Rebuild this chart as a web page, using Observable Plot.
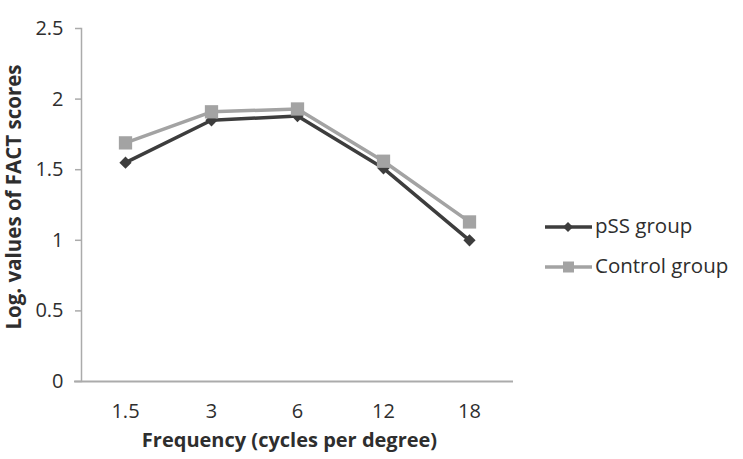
<!DOCTYPE html>
<html>
<head>
<meta charset="utf-8">
<script src="https://cdn.jsdelivr.net/npm/d3@7"></script>
<script src="https://cdn.jsdelivr.net/npm/@observablehq/plot@0.6"></script>
<style>
  html, body { margin: 0; padding: 0; background: #fff; }
  #wrap { position: relative; width: 743px; height: 459px; font-family: "Open Sans", sans-serif; }
  #legend { position: absolute; left: 0; top: 0; }
</style>
</head>
<body>
<div id="wrap"></div>
<script>
const frequencies = ["1.5", "3", "6", "12", "18"];
const pssValues = [1.55, 1.85, 1.88, 1.51, 1.00];
const controlValues = [1.69, 1.91, 1.93, 1.56, 1.13];
const seriesNames = ["pSS group", "Control group"];
const yTicks = [0, 0.5, 1, 1.5, 2, 2.5];
const colors = ["#3d3d3d", "#a3a3a3"];
const textColor = "#2e2e2e";
const axisColor = "#ababab";

const pss = frequencies.map((f, i) => ({f, v: pssValues[i]}));
const ctrl = frequencies.map((f, i) => ({f, v: controlValues[i]}));

const plot = Plot.plot({
  width: 743,
  height: 459,
  marginLeft: 81,
  marginRight: 230,
  marginTop: 28,
  marginBottom: 78,
  style: {fontFamily: "Open Sans, sans-serif", fontSize: "21px", color: textColor, background: "transparent", overflow: "visible"},
  x: {type: "point", domain: frequencies, padding: 0.5},
  y: {domain: [0, 2.5]},
  marks: [
    Plot.frame({anchor: "left", stroke: axisColor, strokeWidth: 1.5, strokeOpacity: 1}),
    Plot.ruleY([0], {stroke: axisColor, strokeWidth: 2, insetLeft: -7}),
    Plot.axisY(yTicks, {tickSize: 6, tickPadding: 12, stroke: axisColor, strokeWidth: 1.5, fill: textColor, fontSize: 20, label: null, tickFormat: d => String(d)}),
    Plot.axisX({tickSize: 0, tickPadding: 22, fill: textColor, fontSize: 20, label: null}),
    Plot.text([0], {frameAnchor: "left", dx: -67, dy: -8, rotate: -90, textAnchor: "middle", text: () => "Log. values of FACT scores", fontWeight: "bold", fontSize: 20.5, fill: textColor}),
    Plot.text([0], {frameAnchor: "bottom", dx: -8, dy: 65, textAnchor: "middle", text: () => "Frequency (cycles per degree)", fontWeight: "bold", fontSize: 20, fill: textColor}),
    Plot.line(pss, {x: "f", y: "v", stroke: colors[0], strokeWidth: 3.5}),
    Plot.dot(pss, {x: "f", y: "v", symbol: "diamond2", r: 5.5, fill: colors[0], stroke: "none"}),
    Plot.line(ctrl, {x: "f", y: "v", stroke: colors[1], strokeWidth: 3.5}),
    Plot.dot(ctrl, {x: "f", y: "v", symbol: "square", r: 7.5, fill: colors[1], stroke: "none"})
  ]
});
const wrap = document.getElementById("wrap");
wrap.appendChild(plot);

// Legend overlay
const ns = "http://www.w3.org/2000/svg";
const lg = document.createElementNS(ns, "svg");
lg.setAttribute("id", "legend");
lg.setAttribute("width", 743);
lg.setAttribute("height", 459);
const rowsY = [227, 267];
seriesNames.forEach((n, i) => {
  const y = rowsY[i];
  const line = document.createElementNS(ns, "line");
  line.setAttribute("x1", 545); line.setAttribute("x2", 592);
  line.setAttribute("y1", y); line.setAttribute("y2", y);
  line.setAttribute("stroke", colors[i]); line.setAttribute("stroke-width", 3.5);
  lg.appendChild(line);
  let m;
  if (i === 0) {
    m = document.createElementNS(ns, "path");
    m.setAttribute("d", `M568,${y-5} L573,${y} L568,${y+5} L563,${y} Z`);
  } else {
    m = document.createElementNS(ns, "rect");
    m.setAttribute("x", 563); m.setAttribute("y", y - 5.5);
    m.setAttribute("width", 11); m.setAttribute("height", 11);
  }
  m.setAttribute("fill", colors[i]);
  lg.appendChild(m);
  const t = document.createElementNS(ns, "text");
  t.setAttribute("x", 595); t.setAttribute("y", y + 6);
  t.setAttribute("font-family", "Open Sans, sans-serif");
  t.setAttribute("font-size", 20.5);
  t.setAttribute("fill", textColor);
  t.textContent = n;
  lg.appendChild(t);
});
wrap.appendChild(lg);
</script>
</body>
</html>
